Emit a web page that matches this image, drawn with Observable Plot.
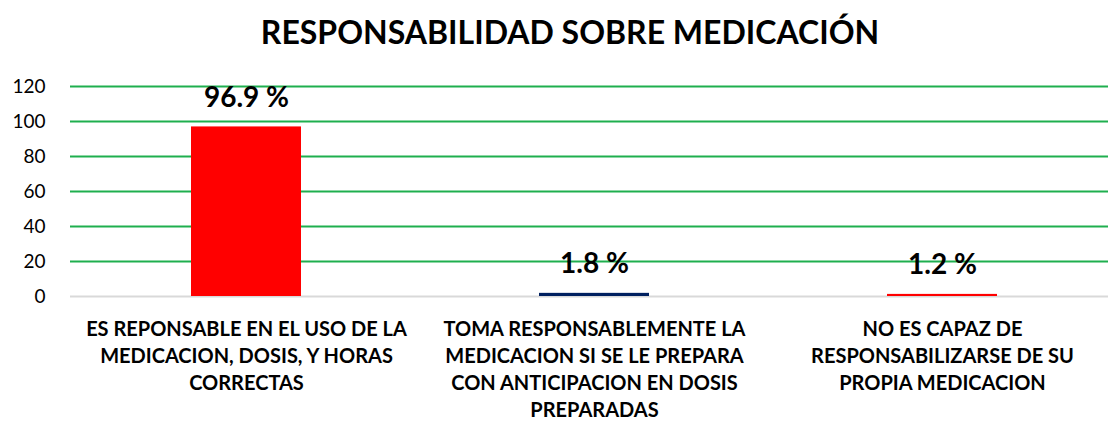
<!DOCTYPE html>
<html>
<head>
<meta charset="utf-8">
<script src="https://cdn.jsdelivr.net/npm/d3@7"></script>
<script src="https://cdn.jsdelivr.net/npm/@observablehq/plot@0.6"></script>
<style>
  html, body { margin: 0; padding: 0; background: #fff; }
  body { width: 1108px; height: 422px; overflow: hidden; font-family: Lato, "Open Sans", sans-serif; }
  #title { box-sizing: border-box; height: 60px; margin: 0; padding-top: 16px; padding-left: 32px; text-align: center; font-size: 32px; font-weight: bold; line-height: 32px; color: #000; }
  #chart svg { display: block; }
</style>
</head>
<body>
<div id="title">RESPONSABILIDAD SOBRE MEDICACIÓN</div>
<div id="chart"></div>
<script>
const categories = [
  "ES REPONSABLE EN EL USO DE LA\nMEDICACION, DOSIS, Y HORAS\nCORRECTAS",
  "TOMA RESPONSABLEMENTE LA\nMEDICACION SI SE LE PREPARA\nCON ANTICIPACION EN DOSIS\nPREPARADAS",
  "NO ES CAPAZ DE\nRESPONSABILIZARSE DE SU\nPROPIA MEDICACION"
];
const values = [96.9, 1.8, 1.2];
const barColors = ["#FF0000", "#002060", "#FF0000"];
const yTicks = [0, 20, 40, 60, 80, 100, 120];

const data = categories.map((c, i) => ({cat: c, value: values[i], color: barColors[i], label: values[i].toFixed(1) + " %"}));

const chart = Plot.plot({
  width: 1108,
  height: 362,
  marginTop: 26,
  marginBottom: 126,
  marginLeft: 70,
  marginRight: 0,
  style: {fontFamily: "Lato, 'Open Sans', sans-serif", color: "#000", background: "#fff", overflow: "visible"},
  x: {domain: categories, range: [71, 1116], padding: 0.684, paddingOuter: 0.342},
  y: {domain: [0, 120], ticks: yTicks},
  marks: [
    Plot.ruleY(yTicks.filter(t => t > 0), {stroke: "#1FAF4F", strokeWidth: 2}),
    Plot.ruleY([0], {stroke: "#D9D9D9", strokeWidth: 2}),
    Plot.barY(data, {x: "cat", y: "value", fill: "color"}),
    Plot.text(data, {x: "cat", y: "value", text: "label", dy: -29, fontSize: 28, fontWeight: "bold", fill: "#000"}),
    Plot.axisY({ticks: yTicks, tickSize: 0, tickPadding: 25, fontSize: 19, label: null}),
    Plot.axisX({tickSize: 0, tickPadding: 20, fontSize: 20, fontWeight: "bold", lineHeight: 1.35, label: null})
  ]
});
document.getElementById("chart").appendChild(chart);
</script>
</body>
</html>
